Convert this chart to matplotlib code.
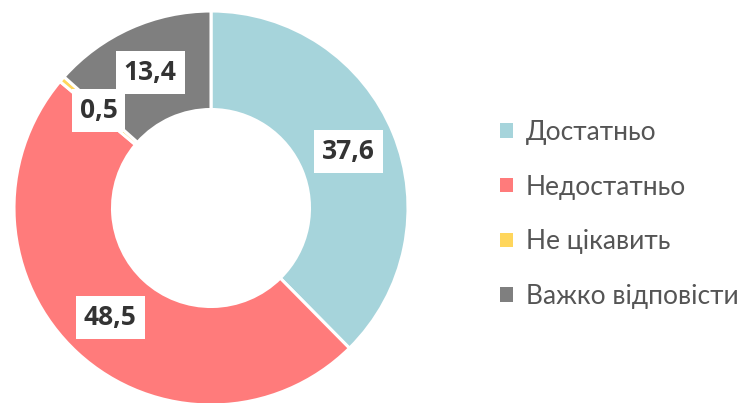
import matplotlib
matplotlib.use("Agg")
import matplotlib.pyplot as plt
import numpy as np

plt.rcParams["font.family"] = ["Open Sans", "DejaVu Sans"]

categories = ["Достатньо", "Недостатньо", "Не цікавить", "Важко відповісти"]
values = [37.6, 48.5, 0.5, 13.4]
value_labels = ["37,6", "48,5", "0,5", "13,4"]
colors = ["#a6d4db", "#ff7b7b", "#ffd65c", "#7f7f7f"]

W, H = 747, 403
fig = plt.figure(figsize=(W / 100, H / 100), dpi=100)
ax = fig.add_axes([0, 0, 1, 1])

cx, cy, r = 211, H - 208, 197
wedges, _ = ax.pie(values, colors=colors, startangle=90, counterclock=False,
                   center=(cx, cy), radius=r, frame=True,
                   wedgeprops=dict(width=r * 0.5, edgecolor="white", linewidth=2.2))
ax.set_xlim(0, W)
ax.set_ylim(0, H)
ax.set_aspect("equal")
ax.axis("off")

for w, lab in zip(wedges, value_labels):
    ang = np.deg2rad((w.theta1 + w.theta2) / 2)
    x = cx + 0.755 * r * np.cos(ang)
    y = cy + 0.755 * r * np.sin(ang)
    ax.text(x, y, lab, ha="center", va="center", fontsize=19, fontweight="bold",
            color="#333333",
            bbox=dict(boxstyle="square,pad=0.3", facecolor="white", edgecolor="none"))

leg = ax.legend(wedges, categories, loc="center left", bbox_to_anchor=(0.638, 0.468),
                frameon=False, prop={"family": ["Lato", "DejaVu Sans"], "size": 19},
                labelcolor="#555555",
                handlelength=0.47, handleheight=0.47, handletextpad=0.5,
                labelspacing=1.12)
for h in leg.legend_handles:
    h.set_linewidth(0)

fig.savefig("out.png", dpi=100)
